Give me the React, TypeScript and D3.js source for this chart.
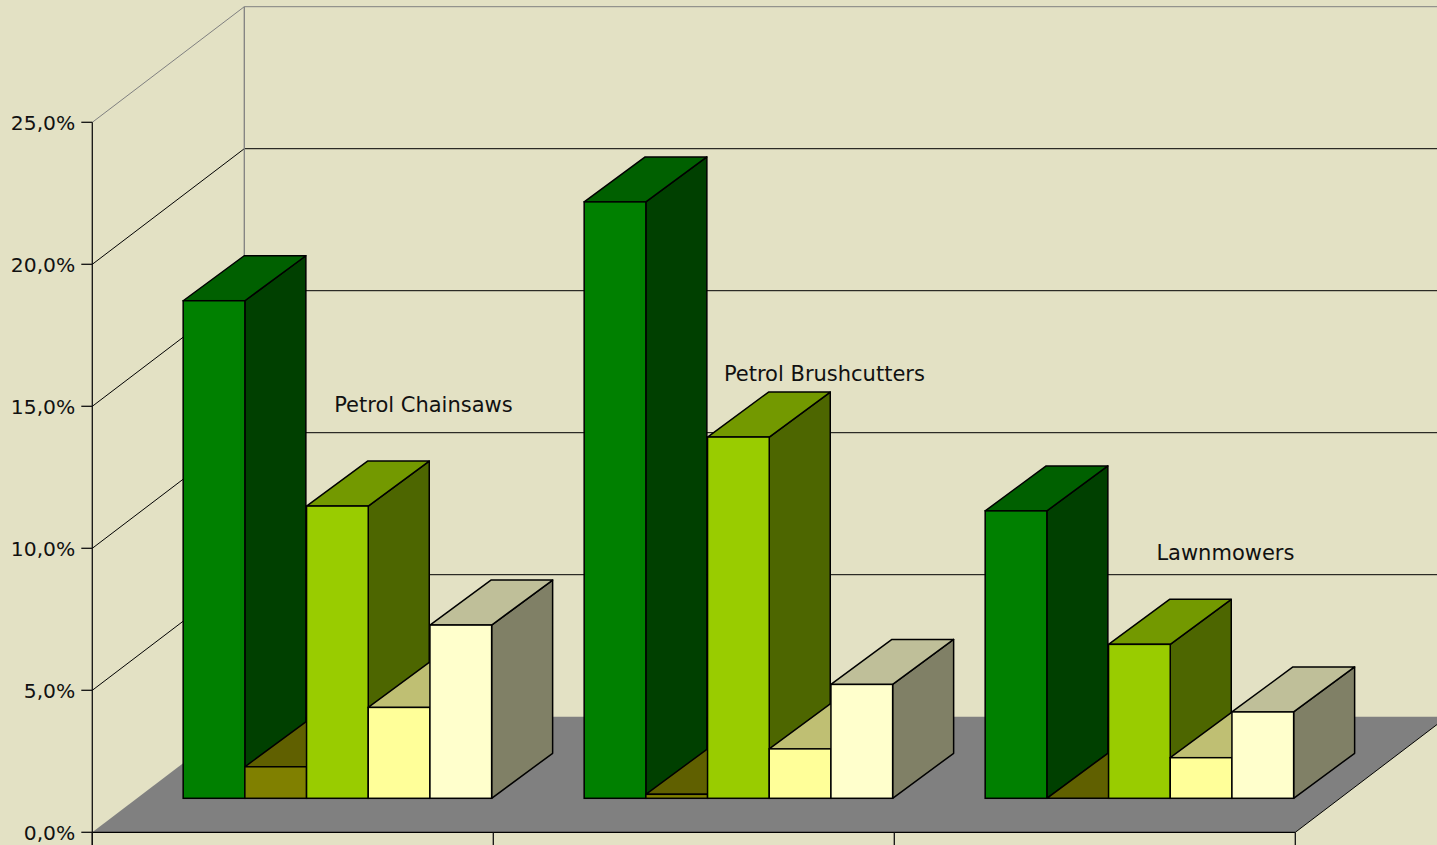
import React from 'react';
import * as d3 from 'd3';

// ---- data ----
const categories = ['Petrol Chainsaws', 'Petrol Brushcutters', 'Lawnmowers'];
const seriesNames = ['Series 1', 'Series 2', 'Series 3', 'Series 4', 'Series 5'];
const series1 = [17.52, 21.0, 10.12];
const series2 = [1.11, 0.14, 0];
const series3 = [10.29, 12.72, 5.42];
const series4 = [3.2, 1.74, 1.43];
const series5 = [6.1, 4.01, 3.04];
const seriesValues = [series1, series2, series3, series4, series5];
const seriesColors = ['#008000', '#808000', '#99CC00', '#FFFF99', '#FFFFCC'];
const yTicks = [0, 5, 10, 15, 20, 25];
const yTickLabels = ['0,0%', '5,0%', '10,0%', '15,0%', '20,0%', '25,0%'];
const labelLevels = [13.6, 14.7, 8.4];

// ---- layout ----
const W = 1437;
const H = 845;
const X0 = 92.3;
const Y0 = 832.3;
const YTOP = 122.3;
const CAT_W = 401;
const DEPTH = { dx: 152, dy: -115.6 };
const BAR_OFF = { dx: 44.6, dy: -34 };
const BAR_D = { dx: 61, dy: -45 };
const BG = '#E3E1C4';
const FONT = '"DejaVu Sans", Verdana, sans-serif';

function shade(c: string, k: number): string {
  const col = d3.rgb(c);
  return d3.rgb(col.r * k, col.g * k, col.b * k).formatHex();
}

const pts = (p: number[][]) => p.map((q) => q.join(',')).join(' ');

export default function App() {
  const yScale = d3.scaleLinear().domain([0, 25]).range([Y0, YTOP]);
  const xCat = d3.scaleBand<string>().domain(categories).range([X0, X0 + categories.length * CAT_W]);
  const xSer = d3
    .scaleBand<string>()
    .domain(seriesNames)
    .range([0, CAT_W])
    .paddingInner(0)
    .paddingOuter(0.75);
  const bw = xSer.bandwidth();
  const xEnd = X0 + categories.length * CAT_W;
  const backX = X0 + DEPTH.dx;

  const bars: JSX.Element[] = [];
  categories.forEach((cat, ci) => {
    seriesNames.forEach((s, si) => {
      const v = seriesValues[si][ci];
      const x = (xCat(cat) as number) + BAR_OFF.dx + (xSer(s) as number);
      const yb = yScale(0) + BAR_OFF.dy;
      const yt = yScale(v) + BAR_OFF.dy;
      const c = seriesColors[si];
      const side = [
        [x + bw, yt],
        [x + bw + BAR_D.dx, yt + BAR_D.dy],
        [x + bw + BAR_D.dx, yb + BAR_D.dy],
        [x + bw, yb],
      ];
      const top = [
        [x, yt],
        [x + bw, yt],
        [x + bw + BAR_D.dx, yt + BAR_D.dy],
        [x + BAR_D.dx, yt + BAR_D.dy],
      ];
      bars.push(
        <g key={`${ci}-${si}`}>
          <polygon points={pts(side)} fill={shade(c, 0.5)} stroke="#000" strokeWidth={1.5} strokeLinejoin="round" />
          <polygon points={pts(top)} fill={shade(c, 0.75)} stroke="#000" strokeWidth={1.5} strokeLinejoin="round" />
          <rect x={x} y={yt} width={bw} height={Math.max(0, yb - yt)} fill={c} stroke="#000" strokeWidth={1.5} />
        </g>
      );
    });
  });

  const floor = [
    [X0, Y0],
    [xEnd, Y0],
    [xEnd + DEPTH.dx, Y0 + DEPTH.dy],
    [X0 + DEPTH.dx, Y0 + DEPTH.dy],
  ];

  return (
    <svg
      width={W}
      height={H}
      style={{ position: 'absolute', left: 0, top: 0, display: 'block' }}
    >
      <rect x={0} y={0} width={W} height={H} fill={BG} />

      {/* back wall gridlines */}
      {yTicks.slice(1).map((t, i) => (
        <line
          key={`bg${i}`}
          x1={backX}
          x2={W}
          y1={yScale(t) + DEPTH.dy}
          y2={yScale(t) + DEPTH.dy}
          stroke={t === 25 ? '#808080' : '#000'}
          strokeWidth={1}
        />
      ))}
      {/* side wall diagonals */}
      {yTicks.slice(1).map((t, i) => (
        <line
          key={`dg${i}`}
          x1={X0}
          y1={yScale(t)}
          x2={backX}
          y2={yScale(t) + DEPTH.dy}
          stroke={t === 25 ? '#808080' : '#000'}
          strokeWidth={1}
        />
      ))}
      {/* back wall left edge */}
      <line x1={backX} x2={backX} y1={yScale(25) + DEPTH.dy} y2={yScale(0) + DEPTH.dy} stroke="#808080" strokeWidth={1.3} />

      {/* floor */}
      <polygon points={pts(floor)} fill="#808080" />
      <line x1={xEnd} y1={Y0} x2={xEnd + DEPTH.dx} y2={Y0 + DEPTH.dy} stroke="#000" strokeWidth={1} />
      <line x1={X0} y1={Y0} x2={xEnd} y2={Y0} stroke="#000" strokeWidth={1.3} />

      {/* bars */}
      {bars}

      {/* category labels */}
      {categories.map((cat, i) => (
        <text
          key={`cl${i}`}
          x={(xCat(cat) as number) + BAR_OFF.dx + CAT_W / 2 + 86}
          y={yScale(labelLevels[i]) + BAR_OFF.dy}
          textAnchor="middle"
          fontFamily={FONT}
          fontSize={21}
          fill="#111"
        >
          {cat}
        </text>
      ))}

      {/* y axis */}
      <line x1={X0} x2={X0} y1={YTOP} y2={H} stroke="#111" strokeWidth={1.3} />
      {yTicks.map((t, i) => (
        <g key={`yt${i}`}>
          <line x1={X0 - 11} x2={X0} y1={yScale(t)} y2={yScale(t)} stroke="#111" strokeWidth={1.3} />
          <text
            x={X0 - 17}
            y={yScale(t) + 1}
            textAnchor="end"
            dominantBaseline="central"
            fontFamily={FONT}
            fontSize={20.3}
            fill="#111"
          >
            {yTickLabels[i]}
          </text>
        </g>
      ))}

      {/* x axis ticks */}
      {[...categories.map((c) => xCat(c) as number), xEnd].map((x, i) => (
        <line key={`xt${i}`} x1={x} x2={x} y1={Y0} y2={Y0 + 13} stroke="#111" strokeWidth={1.3} />
      ))}
    </svg>
  );
}
